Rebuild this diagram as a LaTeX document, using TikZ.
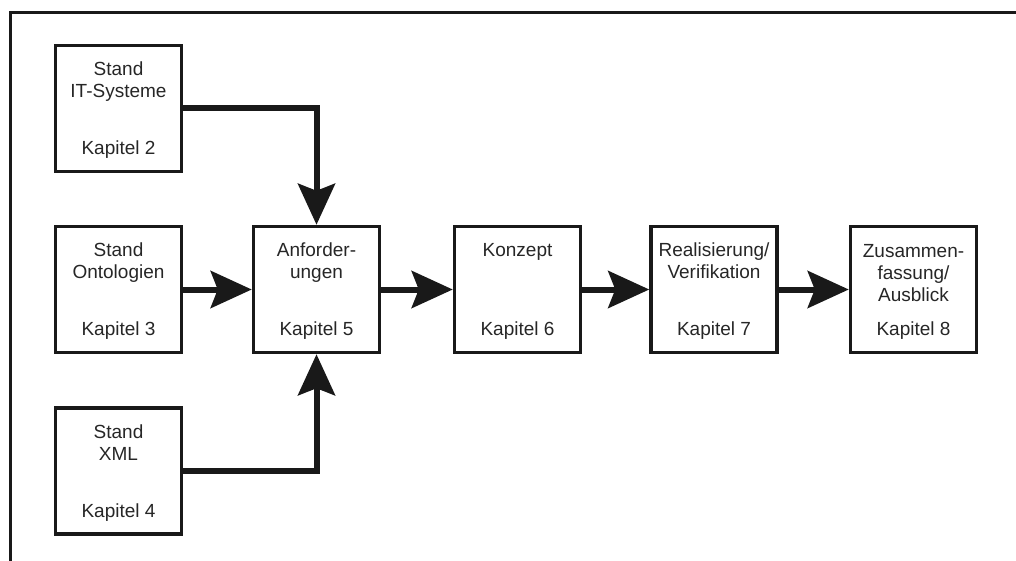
\documentclass[tikz,border=0pt]{standalone}
\usepackage{fontspec}
\setmainfont{Liberation Sans}
\usetikzlibrary{arrows.meta,calc}
\begin{document}
\begin{tikzpicture}[x=1pt,y=-1pt,
  chapbox/.style={draw=black!90,line width=3.5pt,minimum size=126pt,inner sep=0pt},
  lbl/.style={anchor=base,align=center,inner sep=0pt,text=black!85,
    font=\fontsize{19}{22}\selectfont},
  flow/.style={line width=6pt,draw=black!90,
    -{Stealth[length=41pt,width=37pt,inset=7pt]}}]
\useasboundingbox (0,0) rectangle (1016,561);
% frame: top and left edges only
\draw[line width=3pt,black!90] (10,561) -- (10,12.5) -- (1016,12.5);

% chapter boxes
\node[chapbox] (k2) at (118.5,108.5) {};
\node[chapbox] (k3) at (118.5,289.5) {};
\node[chapbox] (k4) at (118.5,471) {};
\node[chapbox] (k5) at (316.5,289.5) {};
\node[chapbox] (k6) at (517.5,289.5) {};
\node[chapbox] (k7) at (714,289.5) {};
\node[chapbox] (k8) at (913.5,289.5) {};

% titles (the base anchor sits on the last line)
\node[lbl] (t2) at ($(k2.north)+(0,54)$) {Stand\\IT-Systeme};
\node[lbl] (t3) at ($(k3.north)+(0,54)$) {Stand\\Ontologien};
\node[lbl] (t4) at ($(k4.north)+(0,54)$) {Stand\\XML};
\node[lbl] (t5) at ($(k5.north)+(0,54)$) {Anforder-\\ungen};
\node[lbl] (t6) at ($(k6.north)+(0,32)$) {Konzept};
\node[lbl] (t7) at ($(k7.north)+(0,54)$) {Realisierung/\\Verifikation};
\node[lbl] (t8) at ($(k8.north)+(0,77)$) {Zusammen-\\fassung/\\Ausblick};

% chapter numbers
\foreach \n in {2,...,8}
  \node[lbl] (c\n) at ($(k\n.south)+(0,-18.5)$) {Kapitel \n};

% connectors
\draw[flow] (k2.east) -| (k5.north);
\draw[flow] (k4.east) -| (k5.south);
\draw[flow] (k3) -- (k5);
\draw[flow] (k5) -- (k6);
\draw[flow] (k6) -- (k7);
\draw[flow] (k7) -- (k8);
\end{tikzpicture}
\end{document}
